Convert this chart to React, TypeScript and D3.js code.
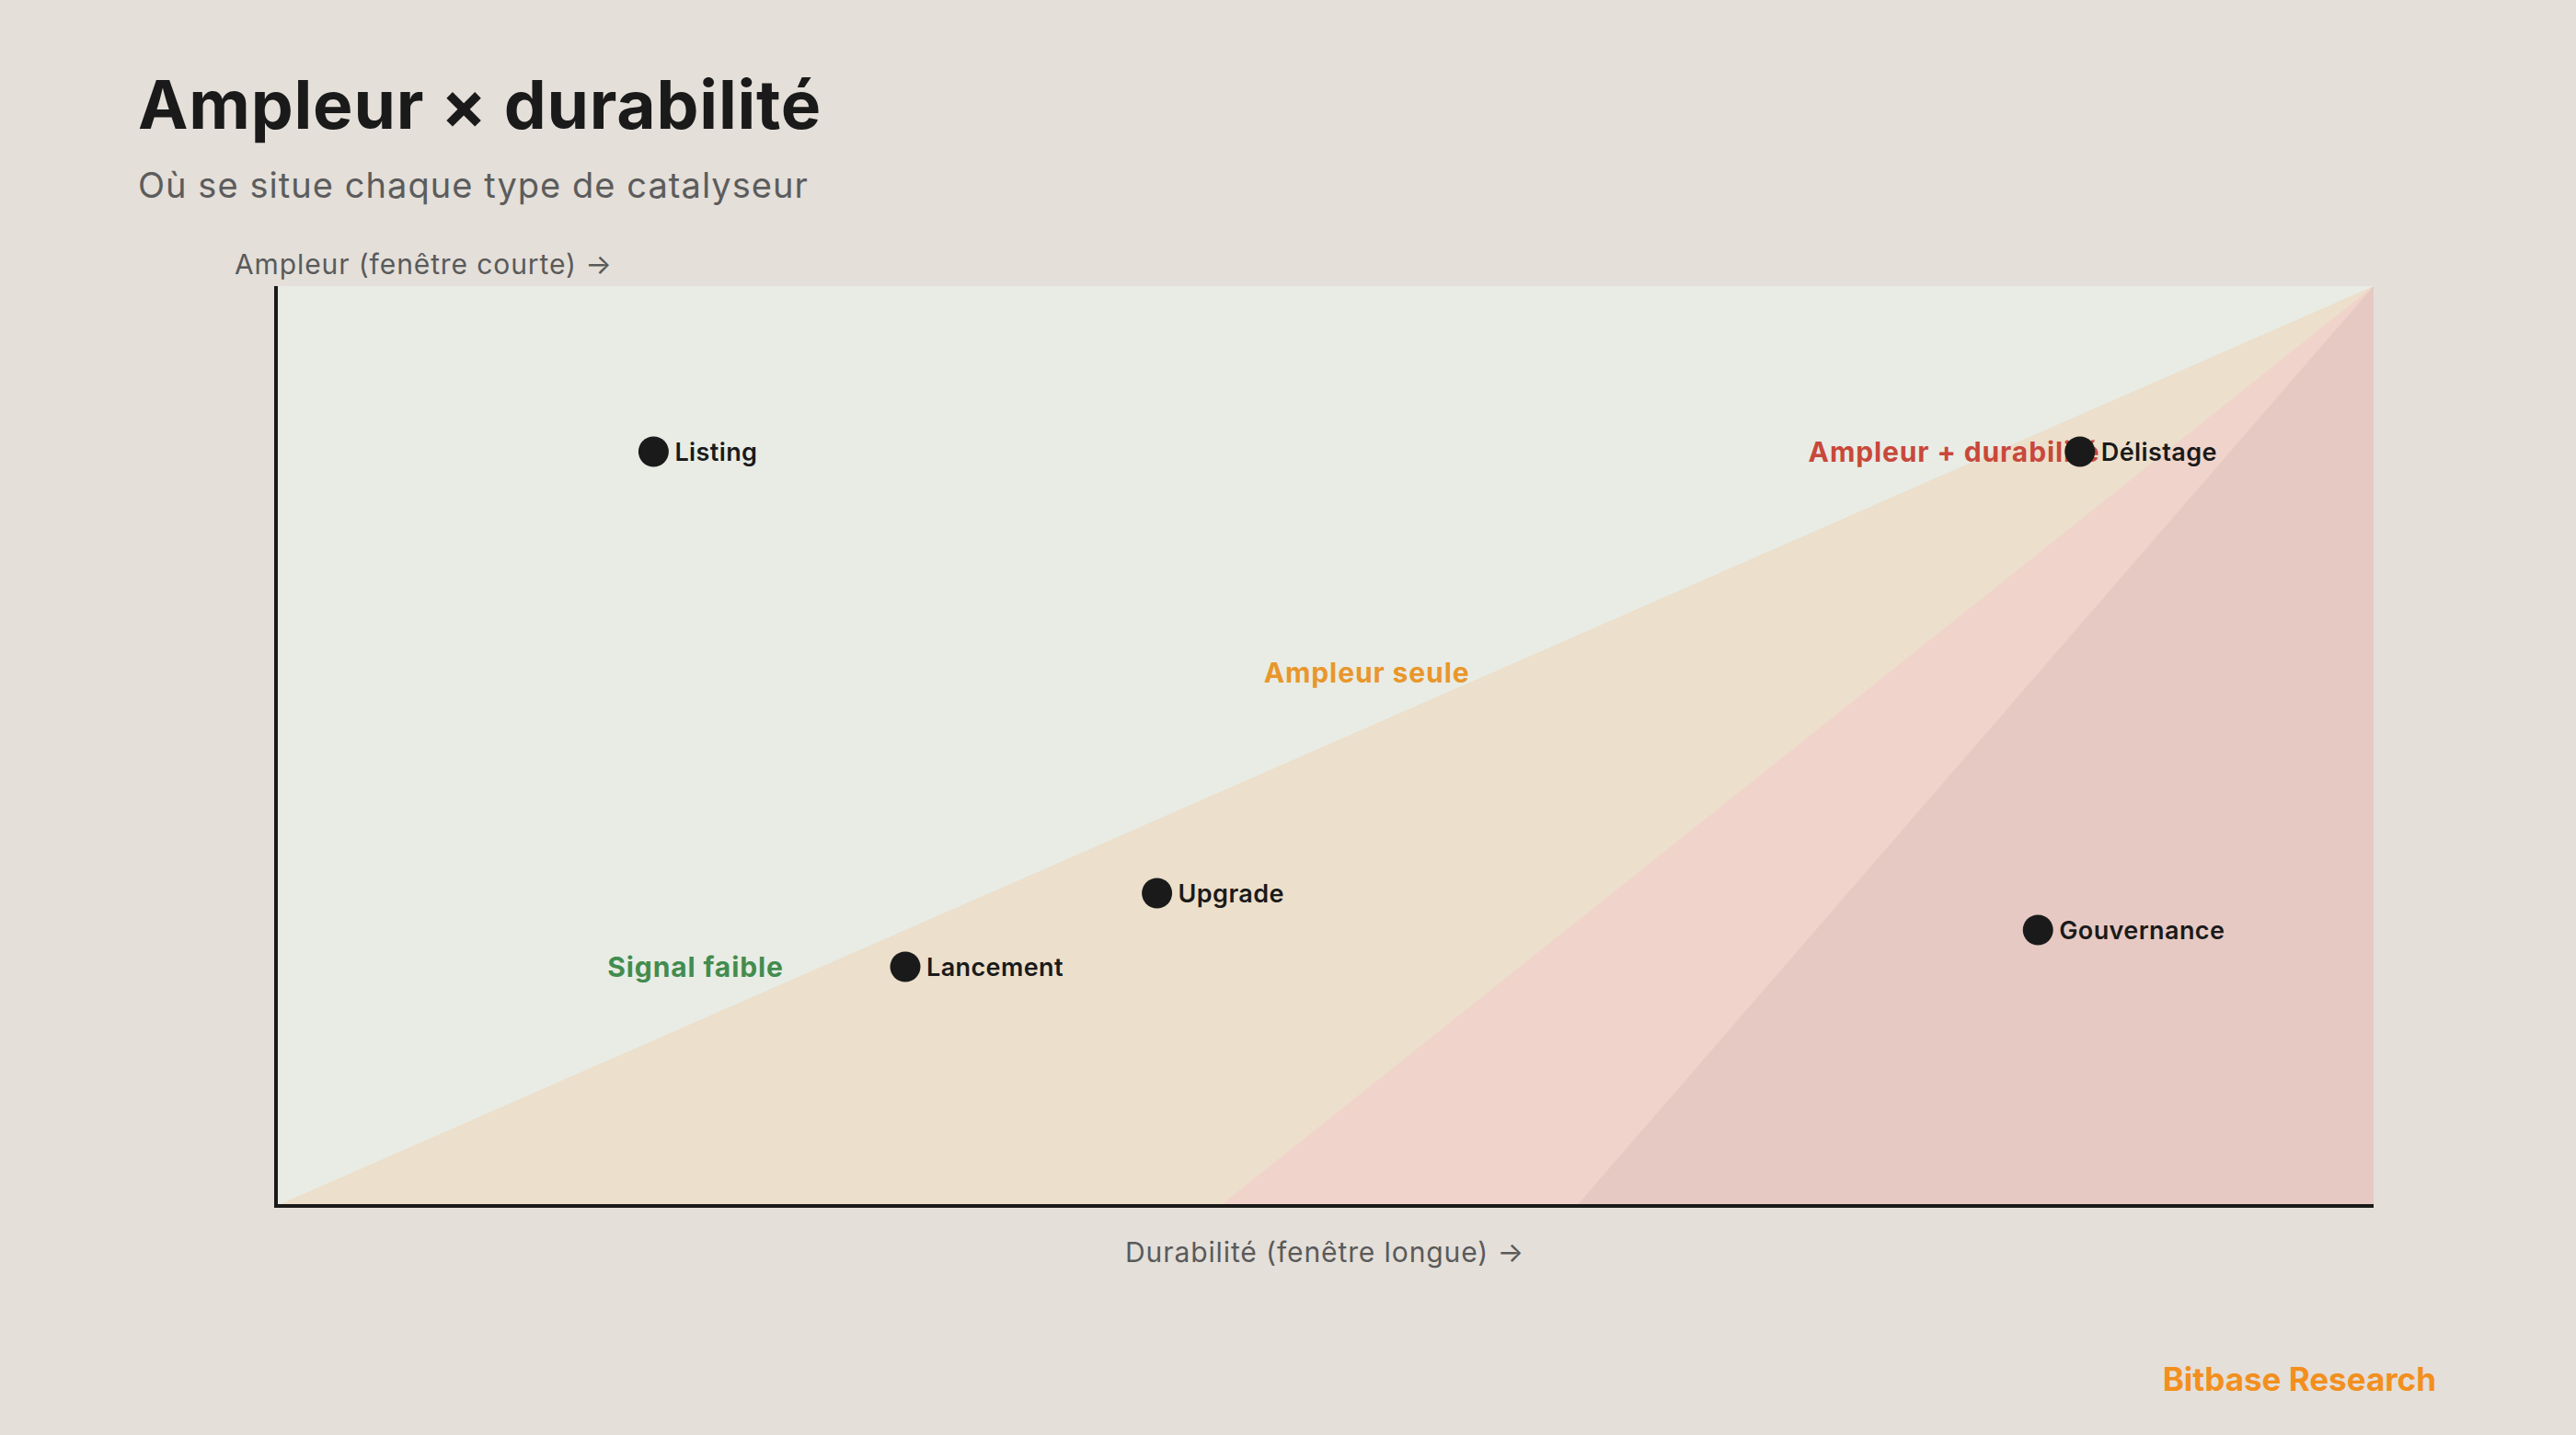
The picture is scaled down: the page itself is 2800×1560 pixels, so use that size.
import React from 'react'
import { scaleLinear, line } from 'd3'

// catalysts, positioned on durability (x) and amplitude (y), both 0..1
const catalysts = ['Listing', 'Délistage', 'Upgrade', 'Lancement', 'Gouvernance']
const durabilite = [0.18, 0.86, 0.42, 0.3, 0.84]
const ampleur = [0.82, 0.82, 0.34, 0.26, 0.3]

// zone labels
const zoneNames = ['Signal faible', 'Ampleur seule', 'Ampleur + durabilité']
const zoneLabelX = [0.2, 0.52, 0.8]
const zoneLabelY = [0.26, 0.58, 0.82]
const zoneColors = ['#428c4f', '#e9962b', '#c8483b']

// wedges fanning from the top-right corner, by where they meet the x axis
const wedgeStarts = [0, 0.45, 0.62]
const wedgeFills = ['#ecdfcb', '#f0d4cb', '#e7c9c3']

const W = 2800
const H = 1560
const FONT = 'Inter, "Noto Sans", sans-serif'

export default function App(): JSX.Element {
  const x = scaleLinear().domain([0, 1]).range([300, 2580])
  const y = scaleLinear().domain([0, 1]).range([1311, 311])

  const poly = line<[number, number]>()
    .x((d) => x(d[0]))
    .y((d) => y(d[1]))

  return (
    <svg
      width={W}
      height={H}
      style={{ position: 'absolute', left: 0, top: 0, display: 'block' }}
      xmlns="http://www.w3.org/2000/svg"
      fontFamily={FONT}
    >
      <rect width={W} height={H} fill="#e4dfd9" />

      <text x={150} y={140} fontSize={73} fontWeight={700} fill="#1a1a1a" letterSpacing={0.8}>
        Ampleur × durabilité
      </text>
      <text x={150} y={215} fontSize={38} fill="#5c5c5c" letterSpacing={1.05}>
        Où se situe chaque type de catalyseur
      </text>

      {/* plot background */}
      <rect x={x(0)} y={y(1)} width={x(1) - x(0)} height={y(0) - y(1)} fill="#e8ece5" />
      {wedgeStarts.map((s, i) => (
        <path
          key={i}
          d={poly([[s, 0], [1, 1], [1, 0]]) + 'Z'}
          fill={wedgeFills[i]}
        />
      ))}

      {zoneNames.map((n, i) => (
        <text
          key={n}
          x={x(zoneLabelX[i])}
          y={y(zoneLabelY[i])}
          dy="0.36em"
          textAnchor="middle"
          fontSize={30}
          fontWeight={700}
          fill={zoneColors[i]}
          letterSpacing={0.9}
        >
          {n}
        </text>
      ))}

      {/* axes */}
      <line x1={x(0)} x2={x(0)} y1={y(1)} y2={y(0)} stroke="#1a1a1a" strokeWidth={4} />
      <line x1={x(0) - 2} x2={x(1)} y1={y(0)} y2={y(0)} stroke="#1a1a1a" strokeWidth={4} />

      <text x={255} y={298} fontSize={30} fill="#5a5a5a" letterSpacing={0.9}>
        Ampleur (fenêtre courte) →
      </text>
      <text
        x={(x(0) + x(1)) / 2}
        y={1372}
        fontSize={30}
        fill="#5a5a5a"
        textAnchor="middle"
        letterSpacing={0.9}
      >
        Durabilité (fenêtre longue) →
      </text>

      {catalysts.map((c, i) => (
        <g key={c} transform={`translate(${x(durabilite[i])},${y(ampleur[i])})`}>
          <circle r={16.5} fill="#1a1a1a" />
          <text x={23} dy="0.36em" fontSize={27} fontWeight={600} fill="#1a1a1a" letterSpacing={0.4}>
            {c}
          </text>
        </g>
      ))}

      <text x={2648} y={1512} fontSize={35} fontWeight={700} fill="#f28f1e" textAnchor="end">
        Bitbase Research
      </text>
    </svg>
  )
}
